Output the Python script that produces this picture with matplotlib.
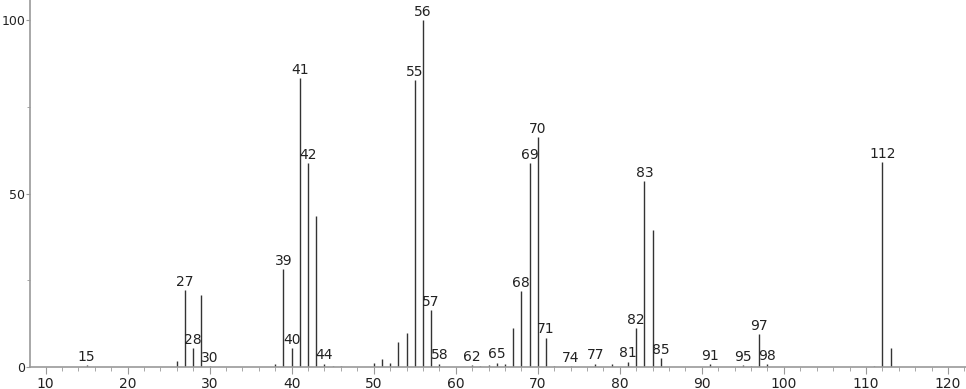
import matplotlib.pyplot as plt
from matplotlib.ticker import MultipleLocator

# ---------------------------
# Spectrum data (m/z, relative intensity)
# ---------------------------
mz = [15, 26, 27, 28, 29, 30, 38, 39, 40, 41, 42, 43, 44, 45, 46,
      50, 51, 52, 53, 54, 55, 56, 57, 58, 62, 63, 64, 65, 66, 67,
      68, 69, 70, 71, 72, 74, 77, 79, 81, 82, 83, 84, 85, 91, 95,
      96, 97, 98, 111, 112, 113]
intensity = [0.6, 1.7, 22.2, 5.5, 20.7, 0.3, 1.0, 28.2, 5.5, 83.3, 58.8, 43.5, 1.0, 0.3, 0.3,
             1.2, 2.3, 1.2, 7.3, 9.8, 82.7, 100.0, 16.4, 1.0, 0.5, 0.3, 0.5, 1.2, 1.0, 11.2,
             21.9, 58.8, 66.3, 8.4, 0.3, 0.3, 1.0, 1.0, 1.5, 11.2, 53.6, 39.5, 2.6, 0.8, 0.5,
             0.3, 9.5, 0.8, 0.3, 59.0, 5.5]
labelled = [15, 27, 28, 30, 39, 40, 41, 42, 44, 55, 56, 57, 58, 62, 65,
            68, 69, 70, 71, 74, 77, 81, 82, 83, 85, 91, 95, 97, 98, 112]

x_ticks = [10, 20, 30, 40, 50, 60, 70, 80, 90, 100, 110, 120]
y_ticks = [0, 50, 100]

# ---------------------------
# Plot
# ---------------------------
plt.rcParams["font.family"] = ["DejaVu Sans"]
fig = plt.figure(figsize=(9.66, 3.89), dpi=100)
ax = fig.add_axes([0.031, 0.0566, 0.969, 0.9434])

ax.vlines(mz, 0, intensity, colors="#333333", linewidth=1.0)

peaks = dict(zip(mz, intensity))
for m in labelled:
    ax.annotate(str(m), (m, peaks[m]), xytext=(0, 1), textcoords="offset points",
                ha="center", va="bottom", fontsize=10, color="#222222")

ax.set_xlim(8.1, 122.2)
ax.set_ylim(0, 105.8)
ax.set_xticks(x_ticks)
ax.set_yticks(y_ticks)
ax.xaxis.set_minor_locator(MultipleLocator(2))
ax.yaxis.set_minor_locator(MultipleLocator(25))

for side in ["top", "right"]:
    ax.spines[side].set_visible(False)
for side in ["left", "bottom"]:
    ax.spines[side].set_color("#999999")
    ax.spines[side].set_linewidth(1.2)

ax.tick_params(which="both", color="#999999", labelsize=10, labelcolor="#222222")
ax.tick_params(axis="x", which="major", length=5, pad=2)
ax.tick_params(axis="x", which="minor", length=3)
ax.tick_params(axis="y", which="major", length=3, pad=0.5)
ax.tick_params(axis="y", which="minor", length=2)
for lbl in ax.get_yticklabels():
    lbl.set_fontsize(9)

fig.savefig("out.png", dpi=100)
